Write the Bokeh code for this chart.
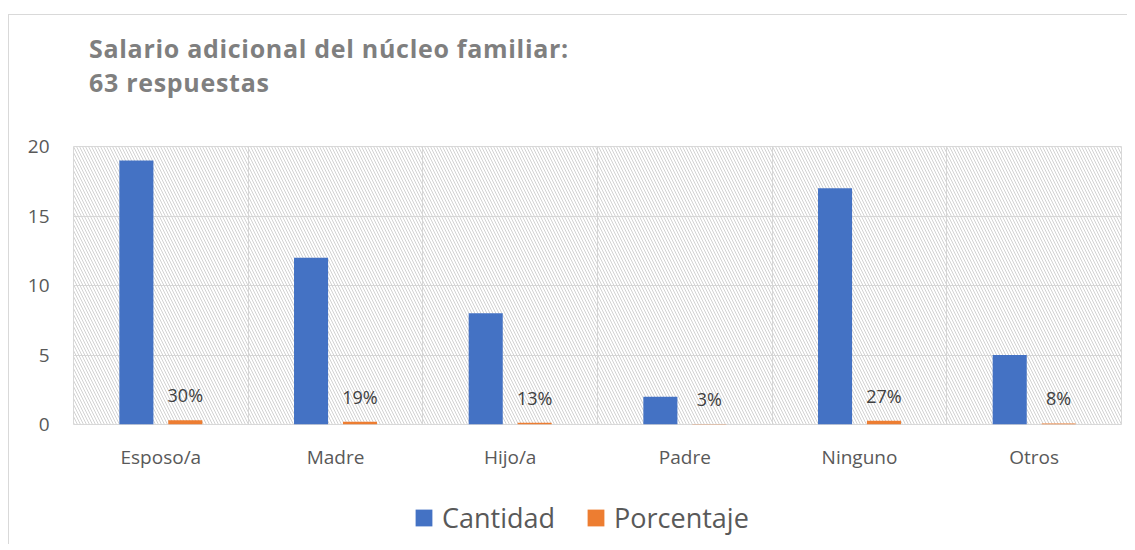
from bokeh.plotting import figure
from bokeh.models import (ColumnDataSource, FixedTicker, BoxAnnotation, LabelSet,
                          Legend, LegendItem, Div)
from bokeh.layouts import column
from bokeh.core.properties import value
from bokeh.embed import file_html
from bokeh.resources import INLINE
import numpy as np

titulo = ["Salario adicional del núcleo familiar:", "63 respuestas"]
categorias = ["Esposo/a", "Madre", "Hijo/a", "Padre", "Ninguno", "Otros"]
cantidad = [19, 12, 8, 2, 17, 5]
porcentaje = [0.30, 0.19, 0.13, 0.03, 0.27, 0.08]
etiquetas = ["30%", "19%", "13%", "3%", "27%", "8%"]
series = ["Cantidad", "Porcentaje"]
y_ticks = [0, 5, 10, 15, 20]

AZUL = "#4472C4"
NARANJA = "#ED7D31"
GRIS = "#d9d9d9"
FONT = "Open Sans"
W = 1118

idx = np.arange(len(categorias))
src = ColumnDataSource(dict(
    xc=idx + 0.5 - 0.14,
    xp=idx + 0.5 + 0.14,
    cantidad=cantidad,
    porcentaje=porcentaje,
    etiquetas=etiquetas,
))

# ---- title ----
title_div = Div(
    text=("<div style=\"font-family:'Open Sans';font-weight:bold;font-size:25px;"
          "letter-spacing:0.7px;line-height:34px;color:#7f7f7f;padding:16px 0 0 80px;"
          "white-space:nowrap\">" + "<br>".join(titulo) + "</div>"),
    width=W, height=115, margin=0)

# ---- main chart ----
p = figure(width=W, height=354, x_range=(0, len(categorias)), y_range=(0, 20),
           output_backend="svg", toolbar_location=None,
           min_border_left=64, min_border_right=6, min_border_top=16, min_border_bottom=60)

p.outline_line_color = GRIS
p.outline_line_width = 1

bg = BoxAnnotation(fill_alpha=0, line_alpha=0, hatch_pattern="\\", hatch_color="#d2d2d2",
                   hatch_scale=6, hatch_weight=1, level="underlay")
p.add_layout(bg)

b1 = p.vbar(x="xc", top="cantidad", width=0.195, source=src, color=AZUL, line_color=None)
b2 = p.vbar(x="xp", top="porcentaje", width=0.195, source=src, color=NARANJA, line_color=None)

labels = LabelSet(x="xp", y="porcentaje", text="etiquetas", source=src, y_offset=13,
                  text_align="center", text_baseline="bottom", text_font=value(FONT),
                  text_font_size=value("18px"), text_color="#404040")
p.add_layout(labels)

p.xaxis.ticker = FixedTicker(ticks=list(idx + 0.5))
p.xaxis.major_label_overrides = {float(i + 0.5): c for i, c in enumerate(categorias)}
p.yaxis.ticker = FixedTicker(ticks=y_ticks)
for ax in (p.xaxis[0], p.yaxis[0]):
    ax.axis_line_color = None
    ax.major_tick_line_color = None
    ax.minor_tick_line_color = None
    ax.major_label_text_font = FONT
    ax.major_label_text_font_size = "19px"
    ax.major_label_text_color = "#595959"
p.xaxis.major_label_standoff = 13
p.yaxis.major_label_standoff = 18

p.xgrid.ticker = FixedTicker(ticks=list(range(len(categorias) + 1)))
p.xgrid.grid_line_color = GRIS
p.ygrid.grid_line_color = GRIS
p.xgrid.level = "underlay"
p.ygrid.level = "underlay"

# ---- legend strip ----
lf = figure(width=W, height=60, x_range=(0, 1), y_range=(0, 1),
            output_backend="svg", toolbar_location=None,
            x_axis_location=None, y_axis_location=None,
            min_border=0, min_border_left=0, min_border_right=0,
            min_border_top=0, min_border_bottom=0)
lf.grid.visible = False
lf.outline_line_color = None
r1 = lf.vbar(x="xc", top="cantidad", width=0.1, source=src, color=AZUL, line_color=None)
r2 = lf.vbar(x="xp", top="porcentaje", width=0.1, source=src, color=NARANJA, line_color=None)
r1.visible = False
r2.visible = False
legend = Legend(items=[LegendItem(label=series[0], renderers=[r1]),
                       LegendItem(label=series[1], renderers=[r2])],
                orientation="horizontal", location=(340, 8),
                label_text_font=FONT, label_text_font_size="27px",
                label_text_color="#595959", glyph_width=21, glyph_height=21,
                spacing=30, padding=0, margin=0, border_line_color=None,
                background_fill_alpha=0, label_standoff=8)
lf.add_layout(legend, "center")

layout = column(title_div, p, lf, spacing=0)
layout.styles = {"border-top": "1px solid #d9d9d9", "border-left": "1px solid #d9d9d9",
                 "margin-top": "14px", "margin-left": "8px"}

open("out.html", "w").write(file_html(layout, INLINE))
